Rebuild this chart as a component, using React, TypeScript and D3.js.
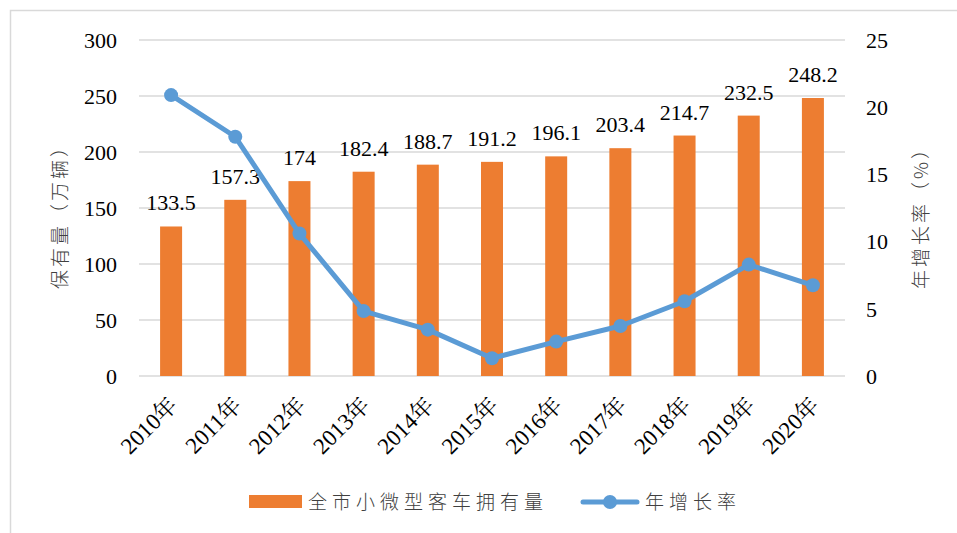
import React from "react";
import * as d3 from "d3";

const years = ["2010年", "2011年", "2012年", "2013年", "2014年", "2015年", "2016年", "2017年", "2018年", "2019年", "2020年"];
const ownership = [133.5, 157.3, 174, 182.4, 188.7, 191.2, 196.1, 203.4, 214.7, 232.5, 248.2];
const growthRate = [20.9, 17.8, 10.6, 4.83, 3.45, 1.32, 2.56, 3.72, 5.56, 8.29, 6.75];
const leftTicks = [0, 50, 100, 150, 200, 250, 300];
const rightTicks = [0, 5, 10, 15, 20, 25];

const WIDTH = 957;
const HEIGHT = 533;
const ORANGE = "#ED7D31";
const BLUE = "#5B9BD5";
const SERIF = '"Liberation Serif", "Noto Serif CJK SC", serif';
const SANS_CJK = '"Noto Sans CJK SC", sans-serif';

const plot = { left: 139, right: 845, top: 40, bottom: 376 };
const x = d3.scaleBand().domain(years).range([plot.left, plot.right]);
const yL = d3.scaleLinear().domain([0, 300]).range([plot.bottom, plot.top]);
const yR = d3.scaleLinear().domain([0, 25]).range([plot.bottom, plot.top]);
const barW = 22;
const cx = (d: string) => (x(d) as number) + x.bandwidth() / 2;

const line = d3
  .line<number>()
  .x((d, i) => cx(years[i]))
  .y((d) => yR(d));

const num = { fontFamily: SERIF, fontSize: "22px" };
const cjk = { fontFamily: SANS_CJK, fontSize: "19px", fontWeight: 300 };

const App = () => {
  return (
    <svg width={WIDTH} height={HEIGHT} style={{ position: "absolute", left: 0, top: 0, background: "white" }}>
      {/* 外框 */}
      <rect x={10.5} y={10.5} width={960} height={540} fill="white" stroke="#d9d9d9" strokeWidth={1.5} />

      {/* 网格线 */}
      {leftTicks.map((t) => (
        <line key={t} x1={plot.left} x2={plot.right} y1={yL(t)} y2={yL(t)} stroke="#d9d9d9" strokeWidth={1.5} />
      ))}

      {/* 左轴刻度 */}
      {leftTicks.map((t) => (
        <text key={t} x={117} y={yL(t)} dy="0.35em" textAnchor="end" style={num} fill="#000">
          {t}
        </text>
      ))}

      {/* 右轴刻度 */}
      {rightTicks.map((t) => (
        <text key={t} x={866} y={yR(t)} dy="0.35em" textAnchor="start" style={num} fill="#000">
          {t}
        </text>
      ))}

      {/* 柱子 */}
      {ownership.map((v, i) => (
        <rect key={i} x={cx(years[i]) - barW / 2} y={yL(v)} width={barW} height={yL(0) - yL(v)} fill={ORANGE} />
      ))}

      {/* 数据标签 */}
      {ownership.map((v, i) => (
        <text key={i} x={cx(years[i])} y={yL(v) - 16} textAnchor="middle" style={num} fill="#000">
          {v}
        </text>
      ))}

      {/* 增长率折线 */}
      <path d={line(growthRate) ?? ""} fill="none" stroke={BLUE} strokeWidth={5} strokeLinejoin="round" />
      {growthRate.map((v, i) => (
        <circle key={i} cx={cx(years[i])} cy={yR(v)} r={7} fill={BLUE} />
      ))}

      {/* x轴标签 */}
      {years.map((y) => (
        <text
          key={y}
          transform={`translate(${cx(y) + 2},401) rotate(-45)`}
          textAnchor="end"
          dy="0.35em"
          style={{ fontFamily: SERIF, fontSize: "23px" }}
          fill="#000"
        >
          {y}
        </text>
      ))}

      {/* 轴标题 */}
      <text transform="translate(60,212) rotate(-90)" textAnchor="middle" dy="0.35em" style={{ ...cjk, letterSpacing: "3px" }} fill="#404040">
        保有量（万辆）
      </text>
      <text transform="translate(921,213) rotate(-90)" textAnchor="middle" dy="0.35em" style={{ ...cjk, letterSpacing: "3px" }} fill="#404040">
        年增长率（%）
      </text>

      {/* 图例 */}
      <rect x={249} y={495} width={53} height={13} fill={ORANGE} />
      <text x={308} y={502} dy="0.35em" style={{ ...cjk, letterSpacing: "5px" }} fill="#404040">
        全市小微型客车拥有量
      </text>
      <line x1={583} x2={637} y1={502} y2={502} stroke={BLUE} strokeWidth={5} strokeLinecap="round" />
      <circle cx={610} cy={502} r={7} fill={BLUE} />
      <text x={645} y={502} dy="0.35em" style={{ ...cjk, letterSpacing: "5px" }} fill="#404040">
        年增长率
      </text>
    </svg>
  );
};

export default App;
